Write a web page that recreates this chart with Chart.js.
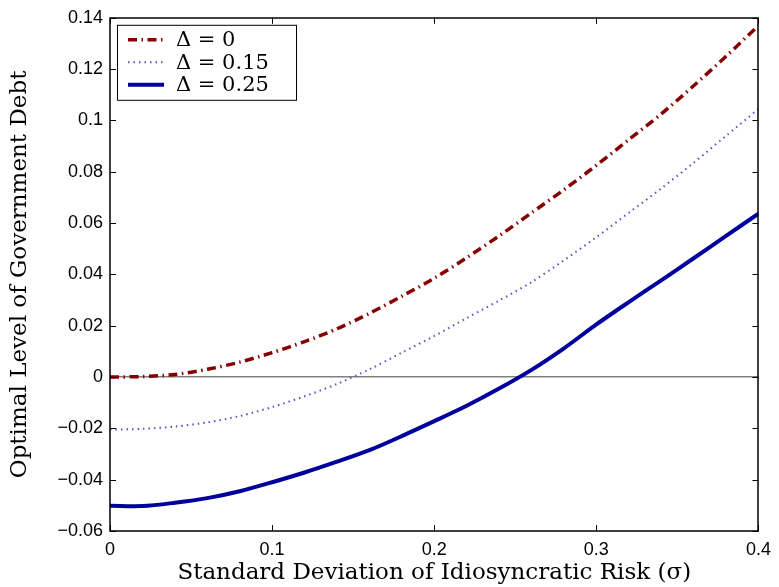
<!DOCTYPE html>
<html>
<head>
<meta charset="utf-8">
<script src="https://cdn.jsdelivr.net/npm/chart.js@4.4.0/dist/chart.umd.min.js"></script>
<style>
  html, body { margin: 0; padding: 0; background: #fff; }
  #wrap { width: 779px; height: 587px; }
</style>
</head>
<body>
<div id="wrap"><canvas id="debtChart" width="779" height="587"></canvas></div>
<script>
// Standard deviation of idiosyncratic risk (x values)
const sigma = [0, 0.02, 0.04, 0.06, 0.08, 0.10, 0.12, 0.14, 0.16, 0.18, 0.20,
               0.22, 0.24, 0.26, 0.28, 0.30, 0.32, 0.34, 0.36, 0.38, 0.40];

// Optimal level of government debt, one array per Delta
const debtDelta0 = [0, 0.0002, 0.001, 0.003, 0.0058, 0.0095, 0.0138, 0.0188, 0.0248, 0.0315, 0.0385,
                    0.0465, 0.055, 0.064, 0.073, 0.0825, 0.0925, 0.1025, 0.1135, 0.125, 0.137];
const debtDelta015 = [-0.0205, -0.0202, -0.0193, -0.0177, -0.0152, -0.0117, -0.0075, -0.0027, 0.003, 0.0095, 0.016,
                      0.023, 0.0298, 0.037, 0.0455, 0.0545, 0.064, 0.0735, 0.0835, 0.094, 0.1045];
const debtDelta025 = [-0.0502, -0.0503, -0.049, -0.0472, -0.0445, -0.041, -0.0372, -0.033, -0.0285, -0.023, -0.0172,
                      -0.0112, -0.0045, 0.0028, 0.0112, 0.0205, 0.0292, 0.0377, 0.0463, 0.055, 0.0637];

const seriesLabels = ['\u0394 = 0', '\u0394 = 0.15', '\u0394 = 0.25'];

const SERIF = '"DejaVu Serif", "Liberation Serif", serif';
const SANS = '"Liberation Sans", Arial, sans-serif';

function toPoints(ys) {
    return sigma.map((x, i) => ({ x: x, y: ys[i] }));
}

function fmtTick(v) {
    const s = String(Number(v.toFixed(2)));
    return s.replace('-', '\u2212');
}

// Matlab style box with inward ticks on all four sides
const boxPlugin = {
    id: 'boxTicks',
    afterDatasetsDraw(chart) {
        const { ctx, chartArea: a, scales } = chart;
        ctx.save();
        ctx.strokeStyle = '#000';
        ctx.lineWidth = 1;
        const len = 6;
        scales.x.ticks.forEach(t => {
            const px = Math.round(scales.x.getPixelForValue(t.value)) + 0.5;
            ctx.beginPath();
            ctx.moveTo(px, a.bottom); ctx.lineTo(px, a.bottom - len);
            ctx.moveTo(px, a.top); ctx.lineTo(px, a.top + len);
            ctx.stroke();
        });
        scales.y.ticks.forEach(t => {
            const py = Math.round(scales.y.getPixelForValue(t.value)) + 0.5;
            ctx.beginPath();
            ctx.moveTo(a.left, py); ctx.lineTo(a.left + len, py);
            ctx.moveTo(a.right, py); ctx.lineTo(a.right - len, py);
            ctx.stroke();
        });
        ctx.lineWidth = 1.5;
        ctx.strokeRect(Math.round(a.left), Math.round(a.top),
                       Math.round(a.right - a.left), Math.round(a.bottom - a.top));
        ctx.restore();
    }
};

// Legend drawn inside the plot, upper left
const insideLegend = {
    id: 'insideLegend',
    afterDraw(chart) {
        const { ctx, chartArea: a } = chart;
        const x0 = a.left + 7, y0 = a.top + 7, w = 179, h = 75;
        ctx.save();
        ctx.fillStyle = '#fff';
        ctx.fillRect(x0, y0, w, h);
        ctx.strokeStyle = '#000';
        ctx.lineWidth = 1;
        ctx.strokeRect(x0 + 0.5, y0 + 0.5, w, h);
        chart.data.datasets.forEach((ds, i) => {
            const cy = y0 + 15 + i * 22.5;
            ctx.beginPath();
            ctx.strokeStyle = ds.borderColor;
            ctx.lineWidth = ds.borderWidth;
            ctx.setLineDash(ds.borderDash || []);
            ctx.lineCap = 'butt';
            ctx.moveTo(x0 + 11, cy);
            ctx.lineTo(x0 + 47, cy);
            ctx.stroke();
            ctx.setLineDash([]);
            ctx.fillStyle = '#000';
            ctx.font = '21px ' + SERIF;
            ctx.textBaseline = 'middle';
            ctx.fillText(ds.label, x0 + 59, cy + 1);
        });
        ctx.restore();
    }
};

new Chart(document.getElementById('debtChart').getContext('2d'), {
    type: 'line',
    data: {
        datasets: [{
            label: seriesLabels[0],
            data: toPoints(debtDelta0),
            borderColor: '#850000',
            borderWidth: 3.5,
            borderDash: [9, 4.5, 1.5, 4.5],
            pointRadius: 0,
            tension: 0.3,
            fill: false
        }, {
            label: seriesLabels[1],
            data: toPoints(debtDelta015),
            borderColor: '#6a48c8',
            borderWidth: 2,
            borderDash: [1.5, 4],
            pointRadius: 0,
            tension: 0.3,
            fill: false
        }, {
            label: seriesLabels[2],
            data: toPoints(debtDelta025),
            borderColor: '#00009c',
            borderWidth: 4,
            pointRadius: 0,
            tension: 0.3,
            fill: false
        }]
    },
    options: {
        responsive: false,
        animation: false,
        devicePixelRatio: 1,
        layout: { padding: { left: 0, right: 16, top: 15, bottom: 0 } },
        plugins: {
            legend: { display: false },
            tooltip: { enabled: false }
        },
        scales: {
            x: {
                type: 'linear',
                min: 0,
                max: 0.4,
                afterFit: (scale) => { scale.height = 56; },
                grid: { display: false, drawTicks: false },
                border: { display: false },
                ticks: {
                    stepSize: 0.1,
                    padding: 8,
                    color: '#000',
                    font: { family: SANS, size: 18 },
                    maxRotation: 0,
                    callback: (v) => fmtTick(v)
                },
                title: {
                    display: true,
                    text: 'Standard Deviation of Idiosyncratic Risk (\u03c3)',
                    color: '#000',
                    font: { family: SERIF, size: 23 },
                    padding: { top: 0, bottom: 0 }
                }
            },
            y: {
                type: 'linear',
                min: -0.06,
                max: 0.14,
                afterFit: (scale) => { scale.width = 110; },
                grid: {
                    drawTicks: false,
                    lineWidth: 1.5,
                    color: (c) => (c.tick && Math.abs(c.tick.value) < 1e-9 ? '#808080' : 'rgba(0,0,0,0)')
                },
                border: { display: false },
                ticks: {
                    stepSize: 0.02,
                    padding: 7,
                    color: '#000',
                    font: { family: SANS, size: 18 },
                    callback: (v) => fmtTick(v)
                },
                title: {
                    display: true,
                    text: 'Optimal Level of Government Debt',
                    color: '#000',
                    font: { family: SERIF, size: 23 },
                    padding: { top: 6, bottom: 0 }
                }
            }
        }
    },
    plugins: [boxPlugin, insideLegend]
});
</script>
</body>
</html>
